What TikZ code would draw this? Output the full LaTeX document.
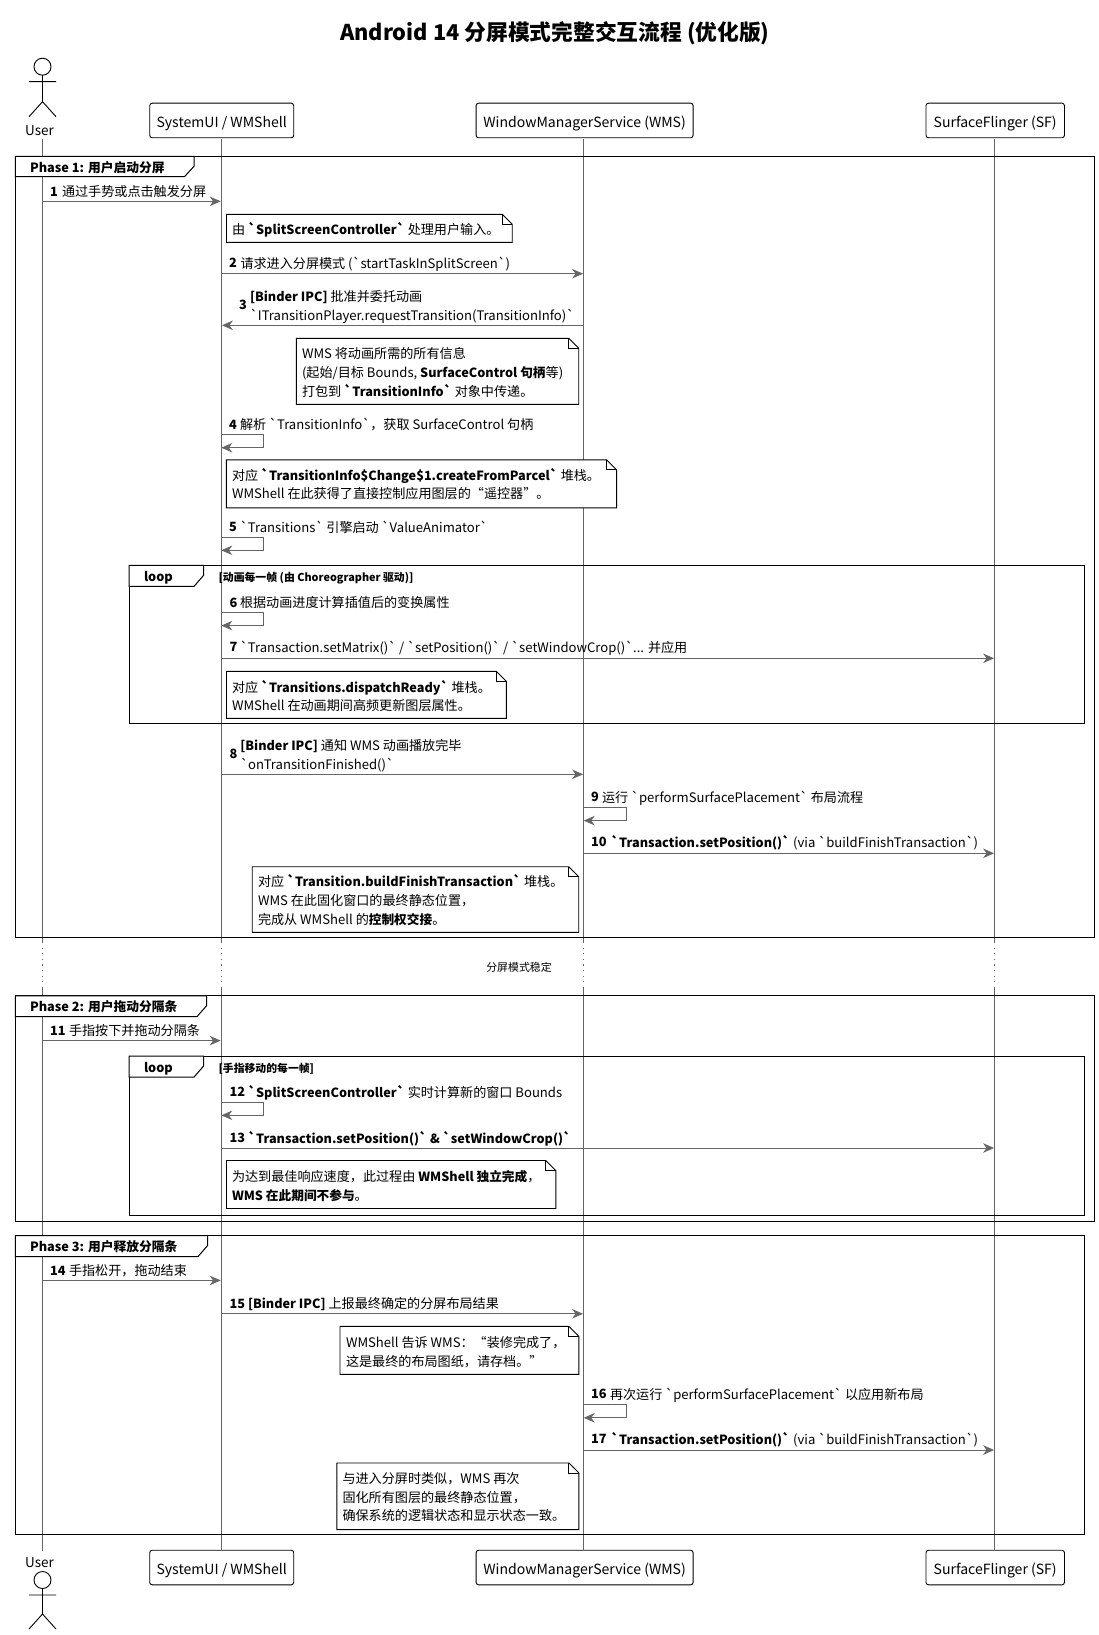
\documentclass[tikz,border=0pt]{standalone}
\usepackage{fontspec}
\usetikzlibrary{arrows.meta}
\newfontfamily\cjkf{Noto Sans CJK SC}
\definecolor{lifec}{HTML}{666666}
\newcommand\xU{42.3}
\newcommand\xS{221.3}
\newcommand\xW{583.7}
\newcommand\xF{994.7}
\newcommand\bt[1]{{\fontsize{12.68}{18.8}\selectfont\bfseries #1}}
\tikzset{
  lab/.style={inner sep=0pt,outer sep=0pt,anchor=north west,align=left,font=\cjkf\fontsize{13.1}{18.8}\selectfont},
  tabl/.style={lab,font=\cjkf\bfseries\fontsize{12.75}{18.8}\selectfont},
  cond/.style={lab,font=\cjkf\bfseries\fontsize{10.85}{14}\selectfont},
  lifel/.style={draw=lifec,line width=0.9pt},
  lifedot/.style={draw=lifec,line width=0.9pt,dash pattern=on 1.2pt off 4.4pt},
  msgl/.style={draw=lifec,line width=0.9pt,-{Stealth[length=11pt,width=9.5pt,inset=3.5pt]}},
  framel/.style={draw=black,line width=1pt},
  notel/.style={draw=black,line width=0.9pt,fill=white},
  partbox/.style={draw=black,line width=0.9pt,rounded corners=2.5pt,fill=white,inner sep=0pt,font=\cjkf\fontsize{14.05}{16}\selectfont},
  actorl/.style={draw=black,line width=0.9pt},
  actorn/.style={inner sep=0pt,font=\cjkf\fontsize{13.5}{16}\selectfont},
}
% text with its first line centred on y
\newcommand\tx[5][lab]{\node[#1] (#2) at (#3,{#4-6.4}) {\rule{0pt}{11pt}#5};}
% straight message: id, from x, to x, y
\newcommand\mg[4]{\coordinate (#1a) at (#2,#4);\coordinate (#1b) at (#3,#4);\draw[msgl] (#1a) -- (#1b);}
% self message: id, x, top y
\newcommand\selfm[3]{\coordinate (#1a) at (#2,#3);\coordinate (#1b) at (#2+42.3,#3);\coordinate (#1c) at (#2+42.3,#3+13.3);\coordinate (#1d) at (#2,#3+13.3);\draw[msgl] (#1a) -- (#1b) -- (#1c) -- (#1d);}
% note: x1,y1,x2,y2
\newcommand\notebox[4]{\draw[notel] (#1,#2) -- (#3-10,#2) -- (#3,#2+10) -- (#3,#4) -- (#1,#4) -- cycle;\draw[notel,fill=none] (#3-10,#2) -- (#3-10,#2+10) -- (#3,#2+10);}
% frame: x1,y1,x2,y2,tab right,tab bottom
\newcommand\seqframe[6]{\draw[framel] (#1,#2) rectangle (#3,#4);\draw[framel,fill=white] (#1,#2) -- (#5,#2) -- (#5,#2+10) -- (#5-9.5,#6) -- (#1,#6) -- cycle;}
% participant box with its label
\newcommand\seqpart[5]{\node[partbox,minimum width=#4pt,minimum height=34.6pt,text height=15.6pt,text depth=1.6pt] (#1) at (#2,#3) {#5};}
\begin{document}
\begin{tikzpicture}[x=1pt,y=-1pt]
\useasboundingbox (0,0) rectangle (1098,1635);
\node[inner sep=0pt,font=\cjkf\bfseries\fontsize{21.75}{24}\selectfont] (title) at (554.9,33.2) {Android 14 分屏模式完整交互流程 (优化版)};
% participants
\seqpart{sTopB}{221.7}{120.5}{144}{SystemUI / WMShell}
\seqpart{wTopB}{584.6}{120.5}{217}{WindowManagerService (WMS)}
\seqpart{fTopB}{995.2}{120.5}{138.5}{SurfaceFlinger (SF)}
\seqpart{sBotB}{221.7}{1567.5}{144}{SystemUI / WMShell}
\seqpart{wBotB}{584.6}{1567.5}{217}{WindowManagerService (WMS)}
\seqpart{fBotB}{995.2}{1567.5}{138.5}{SurfaceFlinger (SF)}
% lifelines
\foreach \nm/\xx in {u/\xU,s/\xS,w/\xW,f/\xF}{
  \coordinate (\nm A) at (\xx,942);
  \coordinate (\nm B) at (\xx,988);
  \draw[lifel] (\xx,139) -- (\nm A);
  \draw[lifedot] (\nm A) -- (\nm B);
  \draw[lifel] (\nm B) -- (\xx,1551);
}
% actors
\draw[actorl] (42.5,66.7) circle (8.5);
\draw[actorl] (42.5,75.2) -- (42.5,101.7) (29,81.7) -- (56,81.7) (29,116.7) -- (42.5,101.7) -- (56,116.7);
\node[actorn] (uTopL) at (39.5,131) {User};
\draw[actorl] (42.5,1580) circle (8.5);
\draw[actorl] (42.5,1588.5) -- (42.5,1614) (29,1595) -- (56,1595) (29,1629) -- (42.5,1614) -- (56,1629);
\node[actorn] (uBotL) at (39.5,1563) {User};
% frames
\seqframe{15.4}{156.3}{1094.6}{937.3}{194}{176.7}
\tx[tabl]{f1}{30}{168}{Phase 1: 用户启动分屏}
\seqframe{129.2}{565.3}{1084.2}{723.3}{203.6}{586.3}
\tx[tabl]{l1}{144}{577.3}{loop}
\tx[cond]{l1c}{218.6}{577.3}{[动画每一帧 (由 Choreographer 驱动)]}
\seqframe{15.4}{995.8}{1094.6}{1221}{206.5}{1016.6}
\tx[tabl]{f2}{30}{1007.3}{Phase 2: 用户拖动分隔条}
\seqframe{129.2}{1056}{1084.2}{1215}{203.6}{1077}
\tx[tabl]{l2}{144}{1067.5}{loop}
\tx[cond]{l2c}{218.6}{1067.5}{[手指移动的每一帧]}
\seqframe{15.4}{1235.6}{1084.2}{1534.3}{207.5}{1256.6}
\tx[tabl]{f3}{30}{1247}{Phase 3: 用户释放分隔条}
% divider
\node[inner sep=0pt,font=\cjkf\fontsize{10.9}{12}\selectfont] (divt) at (519,967.6) {分屏模式稳定};
% messages
\mg{m1}{\xU}{\xS-0.6}{201.3}
\tx[tabl]{n1}{50}{192.3}{1}\tx{t1}{62}{192.3}{通过手势或点击触发分屏}
\notebox{226.5}{214.3}{512.2}{242.3}
\tx{k1}{232}{229.3}{由 \bt{`SplitScreenController`} 处理用户输入。}
\mg{m2}{\xS}{\xW-0.6}{273.7}
\tx[tabl]{n2}{229}{263.3}{2}\tx{t2}{240.5}{263.3}{请求进入分屏模式 (`startTaskInSplitScreen`)}
\mg{m3}{\xW}{\xS+0.6}{325.3}
\tx[tabl]{n3}{239}{305}{3}\tx{t3}{250}{296.8}{\bt{[Binder IPC]} 批准并委托动画\\`ITransitionPlayer.requestTransition(TransitionInfo)`}
\notebox{296.4}{338.3}{578.7}{404.3}
\tx{k2}{302}{354}{WMS 将动画所需的所有信息\\(起始/目标 Bounds, \bt{SurfaceControl 句柄}等)\\打包到 \bt{`TransitionInfo`} 对象中传递。}
\selfm{m4}{\xS}{434.4}
\tx[tabl]{n4}{229}{424.4}{4}\tx{t4}{240}{424.4}{解析 `TransitionInfo`，获取 SurfaceControl 句柄}
\notebox{226.3}{459.8}{616.6}{507.8}
\tx{k3}{232}{474.4}{对应 \bt{`TransitionInfo\$Change\$1.createFromParcel`} 堆栈。\\WMShell 在此获得了直接控制应用图层的“遥控器”。}
\selfm{m5}{\xS}{537}
\tx[tabl]{n5}{229}{527}{5}\tx{t5}{240}{527}{`Transitions` 引擎启动 `ValueAnimator`}
\selfm{m6}{\xS}{612.3}
\tx[tabl]{n6}{229.6}{603}{6}\tx{t6}{240}{603}{根据动画进度计算插值后的变换属性}
\mg{m7}{\xS}{\xF-0.6}{658.3}
\tx[tabl]{n7}{229.6}{647.3}{7}\tx{t7}{240}{647.3}{`Transaction.setMatrix()` / `setPosition()` / `setWindowCrop()`... 并应用}
\notebox{226.5}{671.3}{506.3}{718.3}
\tx{k4}{232}{686.4}{对应 \bt{`Transitions.dispatchReady`} 堆栈。\\WMShell 在动画期间高频更新图层属性。}
\mg{m8}{\xS}{\xW-0.6}{774.3}
\tx[tabl]{n8}{229.6}{754.3}{8}\tx{t8}{240.3}{745.6}{\bt{[Binder IPC]} 通知 WMS 动画播放完毕\\`onTransitionFinished()`}
\selfm{m9}{\xW}{807.3}
\tx[tabl]{n9}{591}{797.3}{9}\tx{t9}{602}{797.3}{运行 `performSurfacePlacement` 布局流程}
\mg{m10}{\xW}{\xF-0.6}{853.3}
\tx[tabl]{n10}{591}{841.9}{10}\tx{t10}{611}{841.9}{\bt{`Transaction.setPosition()`} (via `buildFinishTransaction`)}
\notebox{252.2}{866.7}{578.7}{932.3}
\tx{k5}{258}{880.9}{对应 \bt{`Transition.buildFinishTransaction`} 堆栈。\\WMS 在此固化窗口的最终静态位置，\\完成从 WMShell 的\bt{控制权交接}。}
\mg{m11}{\xU}{\xS-0.6}{1040.6}
\tx[tabl]{n11}{50}{1031}{11}\tx{t11}{69}{1031}{手指按下并拖动分隔条}
\selfm{m12}{\xS}{1102}
\tx[tabl]{n12}{229.6}{1091.7}{12}\tx{t12}{248}{1091.7}{\bt{`SplitScreenController`} 实时计算新的窗口 Bounds}
\mg{m13}{\xS}{\xF-0.6}{1148}
\tx[tabl]{n13}{229.6}{1137.6}{13}\tx{t13}{248}{1137.6}{\bt{`Transaction.setPosition()` \& `setWindowCrop()`}}
\notebox{226.5}{1160.5}{555.8}{1208.5}
\tx{k6}{232}{1176.8}{为达到最佳响应速度，此过程由 \bt{WMShell 独立完成}，\\\bt{WMS 在此期间不参与}。}
\mg{m14}{\xU}{\xS-0.6}{1280.4}
\tx[tabl]{n14}{50}{1271}{14}\tx{t14}{69}{1271}{手指松开，拖动结束}
\mg{m15}{\xS}{\xW-0.6}{1313.8}
\tx[tabl]{n15}{229.6}{1303.4}{15}\tx{t15}{248}{1303.4}{\bt{[Binder IPC]} 上报最终确定的分屏布局结果}
\notebox{340}{1326.4}{578.9}{1374.3}
\tx{k7}{346}{1343}{WMShell 告诉 WMS：“装修完成了，\\这是最终的布局图纸，请存档。”}
\selfm{m16}{\xW}{1404.5}
\tx[tabl]{n16}{591}{1394}{16}\tx{t16}{610}{1394}{再次运行 `performSurfacePlacement` 以应用新布局}
\mg{m17}{\xW}{\xF-0.6}{1450}
\tx[tabl]{n17}{591}{1438.7}{17}\tx{t17}{611}{1438.7}{\bt{`Transaction.setPosition()`} (via `buildFinishTransaction`)}
\notebox{336.8}{1463}{578.9}{1529.6}
\tx{k8}{342.5}{1478.6}{与进入分屏时类似，WMS 再次\\固化所有图层的最终静态位置，\\确保系统的逻辑状态和显示状态一致。}
\end{tikzpicture}
\end{document}
